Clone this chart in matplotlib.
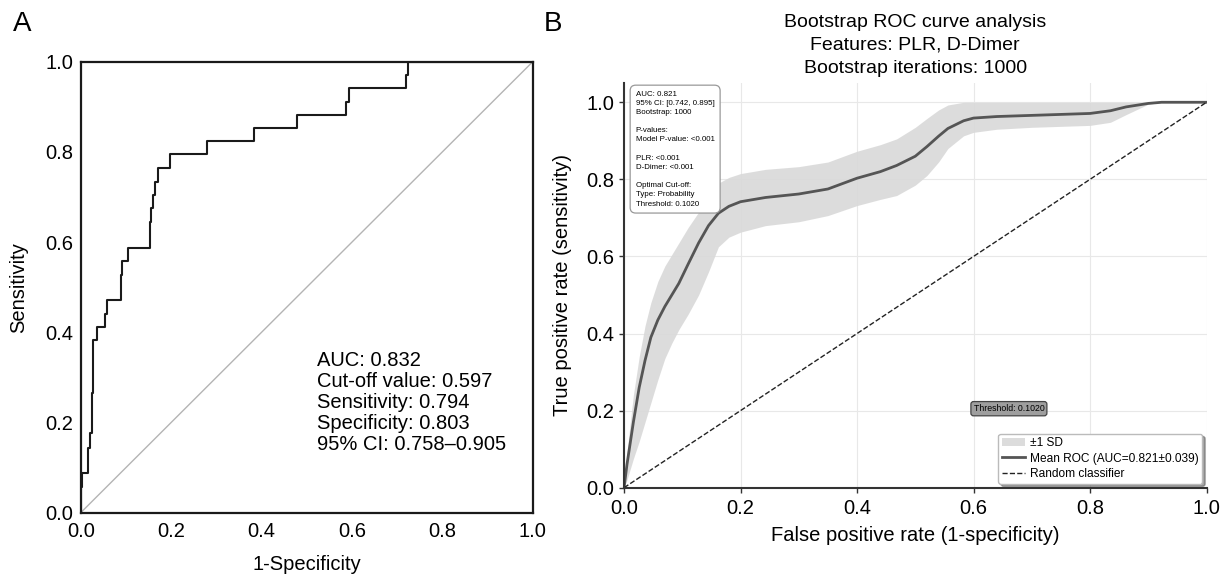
import matplotlib

matplotlib.use("Agg")
import matplotlib.pyplot as plt
import numpy as np

plt.rcParams["font.family"] = ["Liberation Sans", "DejaVu Sans"]

# ---------------------------------------------------------------------------
# Panel A: single ROC curve (step corners)
# ---------------------------------------------------------------------------
roc_fpr = [0.0, 0.0, 0.002, 0.015, 0.017, 0.021, 0.024, 0.028, 0.035, 0.054,
           0.059, 0.088, 0.091, 0.105, 0.153, 0.155, 0.159, 0.164, 0.170,
           0.198, 0.279, 0.384, 0.478, 0.587, 0.594, 0.720, 0.723, 1.0]
roc_tpr = [0.0, 0.058, 0.087, 0.117, 0.143, 0.176, 0.265, 0.383, 0.412, 0.440,
           0.472, 0.527, 0.557, 0.586, 0.645, 0.675, 0.704, 0.734, 0.765,
           0.795, 0.824, 0.852, 0.882, 0.911, 0.941, 0.970, 1.0, 1.0]
stats_a = ["AUC: 0.832", "Cut-off value: 0.597", "Sensitivity: 0.794",
           "Specificity: 0.803", "95% CI: 0.758\u20130.905"]

# ---------------------------------------------------------------------------
# Panel B: bootstrap mean ROC with +/-1 SD band
# ---------------------------------------------------------------------------
boot_fpr = [0.0, 0.005, 0.01, 0.016, 0.026, 0.036, 0.046, 0.058, 0.07, 0.082,
            0.094, 0.11, 0.128, 0.145, 0.162, 0.18, 0.2, 0.243, 0.3, 0.35,
            0.4, 0.44, 0.468, 0.5, 0.52, 0.54, 0.556, 0.583, 0.6, 0.64, 0.7,
            0.8, 0.835, 0.862, 0.9, 0.923, 1.0]
boot_mean = [0.0, 0.06, 0.11, 0.17, 0.26, 0.33, 0.39, 0.435, 0.47, 0.50,
             0.53, 0.58, 0.635, 0.68, 0.712, 0.73, 0.742, 0.753, 0.762,
             0.775, 0.803, 0.82, 0.836, 0.86, 0.885, 0.912, 0.932, 0.952,
             0.959, 0.963, 0.966, 0.971, 0.978, 0.988, 0.997, 1.0, 1.0]
boot_upper = [0.0, 0.09, 0.16, 0.24, 0.34, 0.42, 0.48, 0.535, 0.575, 0.605,
              0.635, 0.675, 0.715, 0.755, 0.79, 0.805, 0.815, 0.826, 0.833,
              0.845, 0.873, 0.89, 0.905, 0.935, 0.958, 0.98, 0.993, 1.0,
              1.0, 1.0, 1.0, 1.0, 1.0, 1.0, 1.0, 1.0, 1.0]
boot_lower = [0.0, 0.02, 0.045, 0.075, 0.12, 0.17, 0.22, 0.28, 0.335, 0.375,
              0.41, 0.45, 0.5, 0.56, 0.625, 0.65, 0.663, 0.68, 0.69,
              0.706, 0.732, 0.748, 0.758, 0.785, 0.81, 0.845, 0.88, 0.913,
              0.922, 0.93, 0.935, 0.94, 0.948, 0.968, 0.995, 1.0, 1.0]
info_b = ("AUC: 0.821\n95% CI: [0.742, 0.895]\nBootstrap: 1000\n\n"
          "P-values:\nModel P-value: <0.001\n\n"
          "PLR: <0.001\nD-Dimer: <0.001\n\n"
          "Optimal Cut-off:\nType: Probability\nThreshold: 0.1020")
title_b = "Bootstrap ROC curve analysis\nFeatures: PLR, D-Dimer\nBootstrap iterations: 1000"
ticks = [0.0, 0.2, 0.4, 0.6, 0.8, 1.0]

fig = plt.figure(figsize=(12.27, 5.76), dpi=100)

# ---- panel A --------------------------------------------------------------
ax_a = fig.add_axes([0.0658, 0.1099, 0.3684, 0.783])
ax_a.plot([0, 1], [0, 1], color="#b4b4b4", lw=1.0)
ax_a.plot(roc_fpr, roc_tpr, color="#1a1a1a", lw=1.5, drawstyle="steps-post")
ax_a.set_xlim(0, 1)
ax_a.set_ylim(0, 1)
ax_a.set_xticks(ticks)
ax_a.set_yticks(ticks)
ax_a.tick_params(length=0, labelsize=14.5)
ax_a.tick_params(axis="x", pad=7)
ax_a.tick_params(axis="y", pad=5.5)
for sp in ax_a.spines.values():
    sp.set_linewidth(1.6)
    sp.set_color("#1a1a1a")
ax_a.set_xlabel("1-Specificity", fontsize=14.5)
ax_a.set_ylabel("Sensitivity", fontsize=14.5)
ax_a.xaxis.set_label_coords(0.5, -0.093)
ax_a.yaxis.set_label_coords(-0.117, 0.5)
ax_a.text(0.522, 0.2435, "\n".join(stats_a), fontsize=14.5, va="center",
          ha="left", linespacing=1.13)

# ---- panel B --------------------------------------------------------------
ax_b = fig.add_axes([0.5086, 0.1533, 0.4747, 0.7026])
ax_b.grid(True, color="#e8e8e8", lw=0.8)
ax_b.set_axisbelow(True)
ax_b.fill_between(boot_fpr, boot_lower, boot_upper, color="#d9d9d9",
                  alpha=0.9, lw=0, label="\u00b11 SD")
ax_b.plot(boot_fpr, boot_mean, color="#555555", lw=2.0,
          label="Mean ROC (AUC=0.821\u00b10.039)")
ax_b.plot([0, 1], [0, 1], color="#222222", lw=1.0, ls="--",
          label="Random classifier")
ax_b.set_xlim(0, 1)
ax_b.set_ylim(0, 1.05)
ax_b.set_xticks(ticks)
ax_b.set_yticks(ticks)
ax_b.tick_params(labelsize=14.5, length=3.5, width=1.0, color="#333333")
ax_b.tick_params(axis="x", pad=4.5)
for side in ("top", "right"):
    ax_b.spines[side].set_visible(False)
for side in ("left", "bottom"):
    ax_b.spines[side].set_linewidth(1.5)
    ax_b.spines[side].set_color("#333333")
ax_b.set_xlabel("False positive rate (1-specificity)", fontsize=14.5)
ax_b.set_ylabel("True positive rate (sensitivity)", fontsize=14.5)
ax_b.xaxis.set_label_coords(0.5, -0.094)
ax_b.yaxis.set_label_coords(-0.089, 0.5)
ax_b.set_title(title_b, fontsize=14, pad=7.5, linespacing=1.45)

ax_b.text(0.02, 1.03, info_b, fontsize=5.7, va="top", ha="left",
          linespacing=1.43,
          bbox=dict(boxstyle="round,pad=0.7", facecolor="white",
                    edgecolor="#999999", lw=0.9))
ax_b.text(0.6, 0.205, "Threshold: 0.1020", fontsize=6.3, va="center",
          ha="left",
          bbox=dict(boxstyle="round,pad=0.3", facecolor="#9e9e9e",
                    edgecolor="#444444", lw=0.9))

leg = ax_b.legend(loc="lower right", fontsize=8.6, fancybox=True, shadow=True,
                  framealpha=1, edgecolor="#bbbbbb", borderaxespad=0.35,
                  handlelength=1.9, handletextpad=0.45, labelspacing=0.28,
                  borderpad=0.3)

fig.text(0.0178, 0.958, "A", fontsize=20, ha="center", va="center")
fig.text(0.4504, 0.958, "B", fontsize=20, ha="center", va="center")

fig.savefig("out.png", dpi=100)
